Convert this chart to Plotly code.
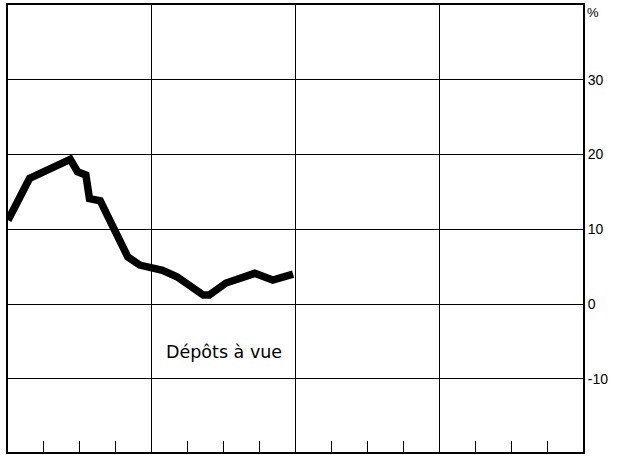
import plotly.graph_objects as go

# months since start of period (fractional), growth rate in %
months = [0, 1.8, 5.2, 5.8, 6.5, 6.8, 7.7, 8.8, 10.0, 11.0, 12.0, 12.9, 14.1,
          16.3, 16.8, 18.2, 20.6, 22.1, 23.8]
values = [11.2, 16.8, 19.35, 17.7, 17.25, 14.1, 13.8, 10.1, 6.3, 5.2, 4.9, 4.5, 3.65,
          1.2, 1.2, 2.8, 4.1, 3.2, 4.0]
y_ticks = [-10, 0, 10, 20, 30]
y_tick_labels = ["-10", "0", "10", "20", "30"]
series_label = "Dépôts à vue"

font_family = "Liberation Sans, Arial, Helvetica, sans-serif"

fig = go.Figure()
fig.add_trace(go.Scatter(
    x=months, y=values, mode="lines",
    line=dict(color="black", width=7.5),
    hoverinfo="skip", showlegend=False,
))

fig.update_layout(
    width=622, height=456,
    margin=dict(l=8, r=39, t=5, b=4),
    paper_bgcolor="white", plot_bgcolor="white",
    font=dict(family=font_family, color="black", size=14),
    showlegend=False,
)

fig.update_xaxes(
    range=[0, 48], dtick=12, tick0=0,
    showgrid=True, gridcolor="black", gridwidth=1,
    showticklabels=False, ticks="",
    showline=True, linecolor="black", linewidth=2, mirror=True,
    zeroline=False,
    minor=dict(dtick=3, tick0=0, ticks="inside", ticklen=11,
               tickcolor="black", tickwidth=1, showgrid=False),
)

fig.update_yaxes(
    range=[-19.8, 40], side="right",
    tickvals=y_ticks, ticktext=y_tick_labels,
    showgrid=True, gridcolor="black", gridwidth=1,
    ticks="", ticklabelstandoff=0,
    showline=True, linecolor="black", linewidth=2, mirror=True,
    zeroline=False,
    tickfont=dict(size=14, family=font_family, color="black"),
)

fig.add_annotation(
    xref="paper", yref="y", x=1, y=39, xanchor="left", yanchor="middle",
    xshift=2, text="%", showarrow=False,
    font=dict(size=13, family=font_family, color="black"),
)

fig.add_annotation(
    xref="x", yref="y", x=18, y=-6.4, xanchor="center", yanchor="middle",
    text=series_label, showarrow=False,
    font=dict(size=17.5, family="DejaVu Sans, sans-serif", color="black"),
    bgcolor="white",
)

fig.write_html("out.html",
               config={"displayModeBar": False, "staticPlot": True},
               post_script="document.body.style.margin='0';document.body.style.padding='0';")
